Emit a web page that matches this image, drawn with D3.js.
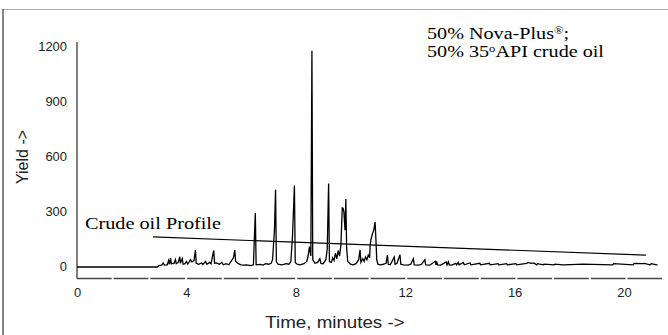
<!DOCTYPE html>
<html><head><meta charset="utf-8">
<script src="https://cdn.jsdelivr.net/npm/d3@7/dist/d3.min.js"></script>
<style>html,body{margin:0;padding:0;background:#fff;}svg{display:block;}</style>
</head><body>
<svg id="chart" width="668" height="335"></svg>
<script>
// ---- data ----
const timeMin = [0, 2.95, 3.0, 3.1, 3.15, 3.2, 3.3, 3.35, 3.38, 3.42, 3.45, 3.55, 3.6, 3.63, 3.7, 3.76, 3.78, 3.85, 3.88, 3.95, 4.0, 4.05, 4.15, 4.2, 4.28, 4.33, 4.36, 4.45, 4.55, 4.6, 4.7, 4.75, 4.85, 4.9, 5.0, 5.03, 5.1, 5.2, 5.3, 5.35, 5.45, 5.55, 5.65, 5.72, 5.77, 5.8, 5.9, 6.0, 6.1, 6.2, 6.35, 6.45, 6.52, 6.55, 6.7, 6.8, 6.9, 7.0, 7.1, 7.15, 7.22, 7.26, 7.29, 7.35, 7.5, 7.65, 7.75, 7.82, 7.88, 7.95, 7.98, 8.05, 8.15, 8.3, 8.4, 8.45, 8.5, 8.55, 8.59, 8.62, 8.7, 8.8, 8.88, 8.92, 9.0, 9.1, 9.15, 9.2, 9.23, 9.3, 9.35, 9.4, 9.45, 9.5, 9.55, 9.6, 9.65, 9.7, 9.73, 9.76, 9.8, 9.83, 9.86, 9.9, 10.0, 10.1, 10.2, 10.3, 10.35, 10.38, 10.45, 10.5, 10.55, 10.6, 10.65, 10.7, 10.72, 10.75, 10.8, 10.85, 10.9, 10.93, 10.96, 11.0, 11.1, 11.2, 11.3, 11.35, 11.38, 11.45, 11.5, 11.6, 11.63, 11.7, 11.81, 11.84, 11.95, 12.1, 12.2, 12.3, 12.33, 12.5, 12.6, 12.72, 12.75, 12.9, 13.1, 13.13, 13.15, 13.18, 13.3, 13.5, 13.53, 13.58, 13.61, 13.7, 13.85, 13.88, 13.94, 13.97, 14.13, 14.16, 14.37, 14.4, 14.73, 14.76, 15.08, 15.11, 15.4, 15.43, 15.71, 15.74, 16.05, 16.08, 16.44, 16.5, 16.6, 16.7, 16.81, 16.84, 17.05, 17.08, 17.45, 17.48, 17.76, 17.79, 18.5, 19.59, 19.62, 20.34, 20.37, 20.7, 20.75, 20.95, 21.0, 21.2, 21.23, 21.4];
const yieldVal = [0, 0, 8, 10, 22, 10, 12, 35, 15, 48, 18, 20, 40, 18, 25, 56, 20, 45, 15, 18, 30, 16, 40, 28, 35, 92, 20, 15, 22, 14, 30, 15, 25, 18, 90, 20, 22, 15, 25, 12, 18, 12, 35, 50, 92, 30, 18, 12, 10, 12, 8, 12, 295, 12, 14, 10, 18, 15, 20, 40, 202, 422, 30, 15, 12, 18, 15, 30, 169, 444, 25, 15, 12, 18, 30, 60, 111, 60, 1180, 40, 20, 25, 45, 20, 18, 40, 98, 456, 30, 25, 50, 35, 75, 45, 90, 60, 120, 322, 320, 300, 200, 371, 100, 30, 15, 12, 18, 40, 93, 25, 45, 30, 55, 40, 65, 50, 120, 150, 180, 200, 245, 150, 40, 15, 12, 15, 20, 65, 15, 12, 25, 55, 15, 20, 67, 15, 12, 10, 15, 45, 12, 10, 15, 40, 12, 10, 31, 12, 30, 12, 10, 27, 12, 28, 12, 10, 20, 12, 25, 12, 25, 12, 22, 12, 20, 12, 20, 12, 18, 12, 18, 12, 18, 12, 20, 25, 20, 22, 12, 18, 12, 16, 12, 16, 12, 12, 16, 12, 18, 12, 20, 18, 20, 12, 18, 12, 12];
const profileTime = [2.78, 20.8];
const profileYield = [164, 65];
const yTicks = [0, 300, 600, 900, 1200];
const xTicks = [0, 4, 8, 12, 16, 20];

// ---- drawing ----
const svg = d3.select("#chart");
svg.append("rect").attr("width", 668).attr("height", 335).attr("fill", "#fff");
const sans = "Liberation Sans, Arial, sans-serif";
const serif = "Liberation Serif, Times New Roman, serif";
// the source picture is stretched horizontally; widen glyphs the same way
function widen(sel, f) {
  sel.each(function () {
    const n = this.getComputedTextLength();
    d3.select(this).attr("textLength", n * f).attr("lengthAdjust", "spacingAndGlyphs");
  });
}

// frame
svg.append("line").attr("x1", 3).attr("x2", 668).attr("y1", 9.5).attr("y2", 9.5).attr("stroke", "#aaa").attr("stroke-width", 1);
svg.append("line").attr("x1", 3).attr("x2", 3).attr("y1", 9).attr("y2", 335).attr("stroke", "#333").attr("stroke-width", 1.2);

const x = d3.scaleLinear().domain([0, 21.5]).range([77, 665]);
const y = d3.scaleLinear().domain([0, 1200]).range([267, 47]);

// y axis
const yAx = svg.append("g").attr("transform", "translate(77,0)")
  .call(d3.axisLeft(y).tickValues(yTicks).tickSize(0).tickPadding(10).tickFormat(d3.format("d")));
yAx.select(".domain").remove();
yAx.selectAll("text").attr("font-family", sans).attr("font-size", 12).attr("fill", "#222").call(widen, 1.08);
svg.append("line").attr("x1", 77).attr("x2", 77).attr("y1", 42).attr("y2", 278.5).attr("stroke", "#555").attr("stroke-width", 1.5);

// x axis
const xAx = svg.append("g").attr("transform", "translate(0,278)")
  .call(d3.axisBottom(x).tickValues(xTicks).tickSize(0).tickPadding(10).tickFormat(d3.format("d")));
xAx.select(".domain").remove();
xAx.selectAll("text").attr("font-family", sans).attr("font-size", 12).attr("fill", "#222").call(widen, 1.08);
svg.append("line").attr("x1", 77).attr("x2", 662).attr("y1", 278.5).attr("y2", 278.5)
  .attr("stroke", "#444").attr("stroke-width", 1.5).attr("stroke-dasharray", "34.7,2");

// trace
const line = d3.line().x((d, i) => x(timeMin[i])).y((d, i) => y(yieldVal[i]));
svg.append("path").datum(yieldVal).attr("d", line).attr("fill", "none").attr("stroke", "#000").attr("stroke-width", 1.3).attr("stroke-linejoin", "miter");

// profile line
svg.append("line").attr("x1", x(profileTime[0])).attr("y1", y(profileYield[0])).attr("x2", x(profileTime[1])).attr("y2", y(profileYield[1]))
  .attr("stroke", "#000").attr("stroke-width", 1.2);

// axis titles
svg.append("text").attr("x", 335).attr("y", 328).attr("text-anchor", "middle")
  .attr("font-family", sans).attr("font-size", 16).attr("fill", "#222").text("Time, minutes ->").call(widen, 1.17);
svg.append("text").attr("transform", "translate(28,157) rotate(-90)").attr("text-anchor", "middle")
  .attr("font-family", sans).attr("font-size", 16).attr("fill", "#222").text("Yield ->");

// annotations
svg.append("text").attr("x", 85).attr("y", 229).attr("font-family", serif).attr("font-size", 17).attr("fill", "#000").text("Crude oil Profile").call(widen, 1.19);
const noteTf = "translate(427,0) scale(1.26,1) translate(-427,0)";
const n1 = svg.append("text").attr("x", 427).attr("y", 39).attr("font-family", serif).attr("font-size", 16).attr("fill", "#000").attr("transform", noteTf);
n1.append("tspan").text("50% Nova-Plus");
n1.append("tspan").attr("font-size", 10).attr("dy", -5).text("®");
n1.append("tspan").attr("dy", 5).text(";");
const n2 = svg.append("text").attr("x", 427).attr("y", 57).attr("font-family", serif).attr("font-size", 16).attr("fill", "#000").attr("transform", noteTf);
n2.append("tspan").text("50% 35");
n2.append("tspan").attr("font-size", 10).attr("dy", -5).text("o");
n2.append("tspan").attr("dy", 5).text("API crude oil");
</script>
</body></html>
